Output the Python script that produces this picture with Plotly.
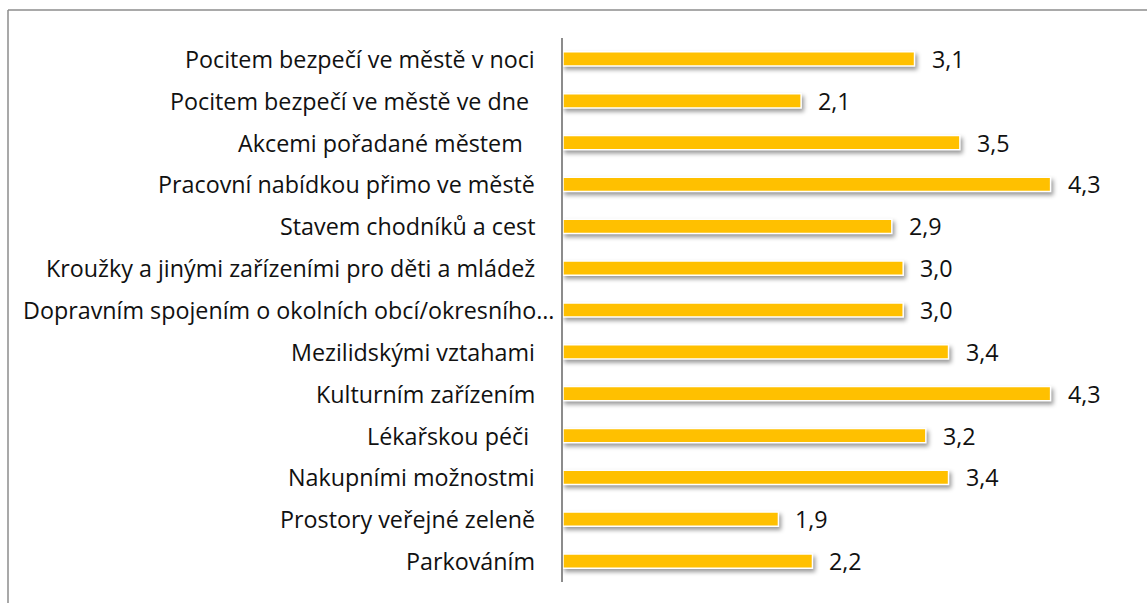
import plotly.graph_objects as go

# Survey items (top to bottom) and their average ratings
categories = [
    "Pocitem bezpečí ve městě v noci",
    "Pocitem bezpečí ve městě ve dne\u00a0",
    "Akcemi pořadané městem\u00a0\u00a0",
    "Pracovní nabídkou přimo ve městě",
    "Stavem chodníků a cest",
    "Kroužky a jinými zařízeními pro děti a mládež",
    "Dopravním spojením o okolních obcí/okresního…",
    "Mezilidskými vztahami",
    "Kulturním zařízením",
    "Lékařskou péči\u00a0",
    "Nakupními možnostmi",
    "Prostory veřejné zeleně",
    "Parkováním",
]
values = [3.1, 2.1, 3.5, 4.3, 2.9, 3.0, 3.0, 3.4, 4.3, 3.2, 3.4, 1.9, 2.2]
value_labels = [f"{v:.1f}".replace(".", ",") for v in values]

W, H = 1147, 603
ML, MR, MT, MB = 563, 17, 38, 21
FONT = "'Open Sans', 'Noto Sans', sans-serif"
FSIZE = 23.3
TEXT = "#111111"

fig = go.Figure()
fig.add_trace(go.Bar(
    x=values,
    y=categories,
    orientation="h",
    width=0.34,
    marker=dict(color="#FFC000", line=dict(color="#FFFFFF", width=1.5)),
    hoverinfo="skip",
))

# category labels, right-aligned left of the axis; the truncated one runs closer
label_gap = 26
truncated_gap = 7
for cat in categories:
    gap = truncated_gap if cat.endswith("…") else label_gap
    fig.add_annotation(
        x=0, xref="paper", y=cat, text=cat, showarrow=False,
        xanchor="right", yanchor="middle", xshift=-gap,
        font=dict(family=FONT, size=FSIZE, color=TEXT),
    )

# value labels right of each bar
for cat, v, lab in zip(categories, values, value_labels):
    fig.add_annotation(
        x=v, y=cat, text=lab, showarrow=False,
        xanchor="left", yanchor="middle", xshift=15,
        font=dict(family=FONT, size=FSIZE, color=TEXT),
    )

# outer frame of the chart (left and top edges)
plot_w = W - ML - MR
plot_h = H - MT - MB
def px_x(p):
    return (p - ML) / plot_w
def px_y(p):
    return 1 - (p - MT) / plot_h

frame = dict(color="#8C8C8C", width=1.5)
fig.add_shape(type="line", xref="paper", yref="paper",
              x0=px_x(8), x1=px_x(W + 5), y0=px_y(10), y1=px_y(10), line=frame)
fig.add_shape(type="line", xref="paper", yref="paper",
              x0=px_x(8), x1=px_x(8), y0=px_y(10), y1=px_y(H + 5), line=frame)

fig.update_layout(
    width=W, height=H,
    margin=dict(l=ML, r=MR, t=MT, b=MB),
    paper_bgcolor="white", plot_bgcolor="white",
    showlegend=False,
    font=dict(family=FONT, size=FSIZE, color=TEXT),
)
fig.update_xaxes(range=[0, 5], visible=False, showgrid=False, zeroline=False)
fig.update_yaxes(
    autorange="reversed",
    showline=True, linecolor="#8C8C8C", linewidth=1.5,
    showgrid=False, zeroline=False, ticks="",
    showticklabels=False,
)

shadow_js = """
var s = document.createElement('style');
s.textContent = '.bars .point path { filter: drop-shadow(2px 3px 2px rgba(0,0,0,0.4)); }';
document.head.appendChild(s);
"""

fig.write_html("out.html", post_script=shadow_js)
